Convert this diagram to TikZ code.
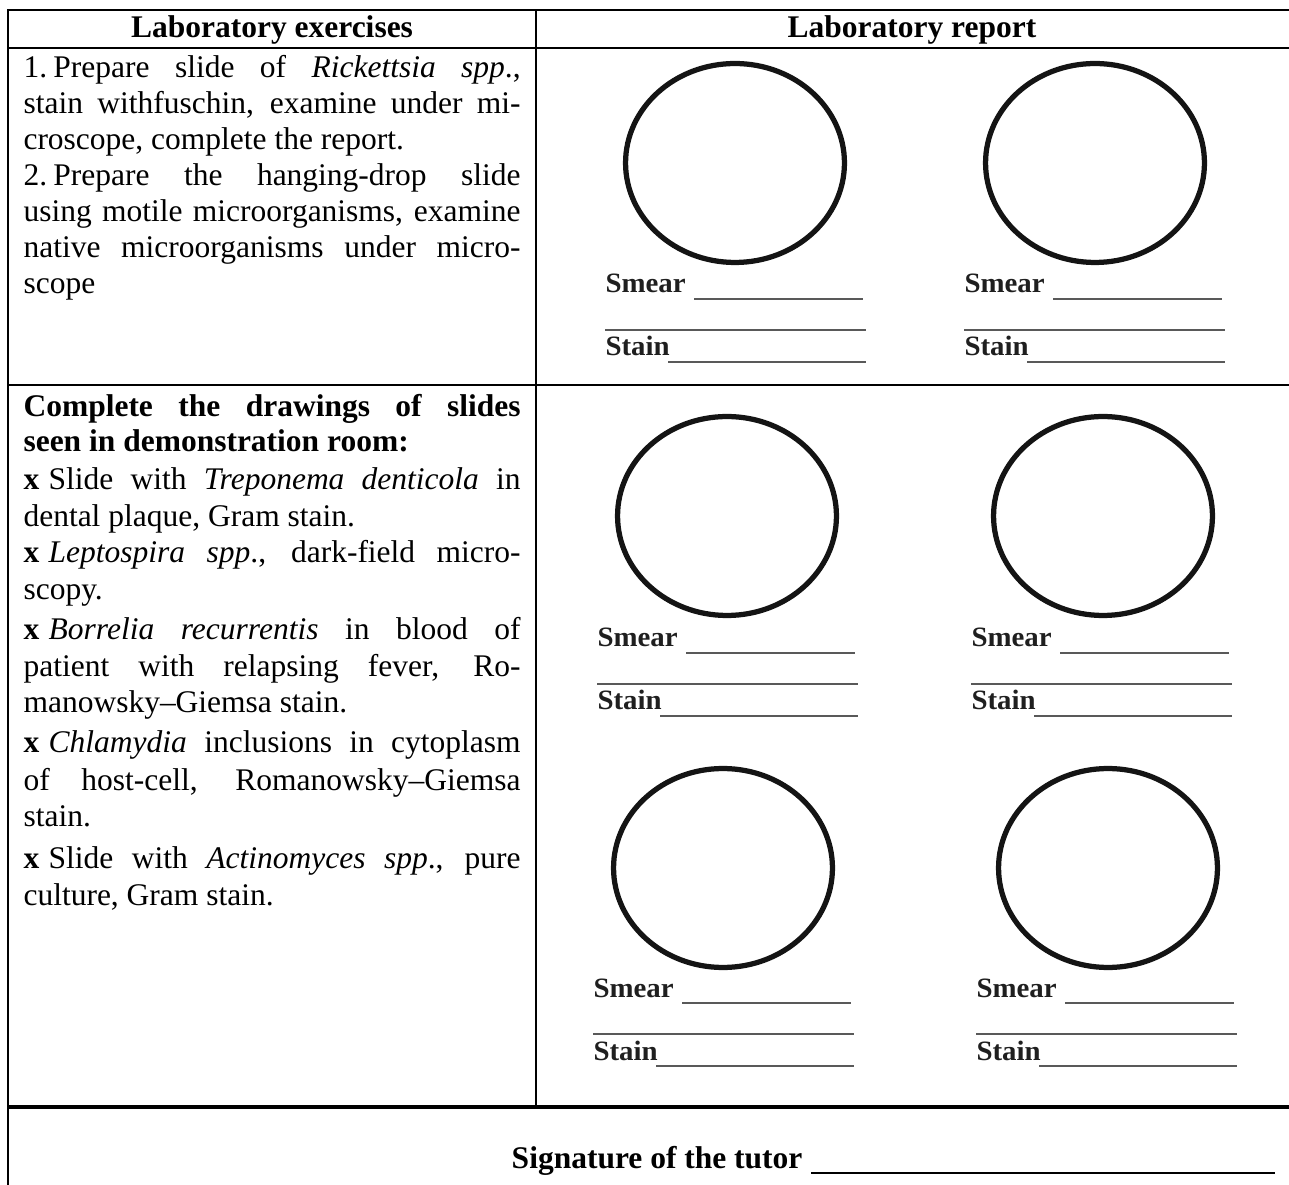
\documentclass[tikz,border=0pt]{standalone}
\usepackage{fontspec}
\setmainfont{Liberation Serif}
\usetikzlibrary{shapes.geometric}
\newcommand\jl[1]{\makebox[189.4pt][s]{#1}}
\newcommand\bx{\textbf{x}\hspace{0.3em}}
\newcommand\slideblock[5]{%
  \node[lens] (#1e) at (#2,#3) {};
  \begin{scope}[shift={(#4,#5)}]
    \node[lbl] (#1sm) at (0,0) {\scalebox{1}[0.97]{Smear}};
    \coordinate (#1a1) at (89,6);  \coordinate (#1a2) at (258,6);
    \coordinate (#1b1) at (0,37);  \coordinate (#1b2) at (261,37);
    \node[lbl] (#1st) at (0,63) {\scalebox{1}[0.97]{Stain}};
    \coordinate (#1c1) at (63,69); \coordinate (#1c2) at (261,69);
    \draw[blank] (#1a1) -- (#1a2);
    \draw[blank] (#1b1) -- (#1b2);
    \draw[blank] (#1c1) -- (#1c2);
  \end{scope}}
\begin{document}
\begin{tikzpicture}[x=0.381pt,y=-0.381pt,
  rule/.style={line width=1.1pt},
  lens/.style={draw=black!92, line width=2pt, ellipse, inner sep=0pt,
               minimum width=83.4pt, minimum height=75.8pt},
  blank/.style={line width=0.8pt, draw=black!65},
  body/.style={inner sep=0pt, anchor=base west, font=\fontsize{12}{13.8}\selectfont},
  head/.style={inner sep=0pt, anchor=base, font=\fontsize{12}{13.8}\selectfont\bfseries},
  lbl/.style={inner sep=0pt, anchor=base west, font=\fontsize{11}{12}\selectfont\bfseries, text=black!88}]
\useasboundingbox (0,0) rectangle (1289,1185);
% table rules
\draw[rule] (1289,10) -- (8,10) -- (8,1185);
\draw[rule] (8,48) -- (1289,48);
\draw[rule] (8,385) -- (1289,385);
\draw[line width=1.4pt] (8,1107) -- (1289,1107);
\draw[line width=0.9pt] (536,10) -- (536,1107);
% headers
\node[head] (h1) at (272,38) {Laboratory exercises};
\node[head] (h2) at (912,38) {Laboratory report};
% row 1 text
\node[body] (a1) at (23,78)    {\jl{1.\hspace{0.2em}Prepare slide of \textit{Rickettsia spp}.,}};
\node[body] (a2) at (23,113.9) {\jl{stain withfuschin, examine under mi-}};
\node[body] (a3) at (23,149.7) {croscope, complete the report.};
\node[body] (a4) at (23,185.6) {\jl{2.\hspace{0.2em}Prepare the hanging-drop slide}};
\node[body] (a5) at (23,221.4) {\jl{using motile microorganisms, examine}};
\node[body] (a6) at (23,257.3) {\jl{native microorganisms under micro-}};
\node[body] (a7) at (23,293.1) {scope};
% row 2 text
\node[body] (b1)  at (23,417) {\jl{\bfseries Complete the drawings of slides}};
\node[body] (b2)  at (23,452) {\textbf{seen in demonstration room:}};
\node[body] (b3)  at (23,490) {\jl{\bx Slide with \textit{Treponema denticola} in}};
\node[body] (b4)  at (23,527) {dental plaque, Gram stain.};
\node[body] (b5)  at (23,563) {\jl{\bx\textit{Leptospira spp}., dark-field micro-}};
\node[body] (b6)  at (23,600) {scopy.};
\node[body] (b7)  at (23,640) {\jl{\bx\textit{Borrelia recurrentis} in blood of}};
\node[body] (b8)  at (23,677) {\jl{patient with relapsing fever, Ro-}};
\node[body] (b9)  at (23,713) {manowsky–Giemsa stain.};
\node[body] (b10) at (23,753) {\jl{\bx\textit{Chlamydia} inclusions in cytoplasm}};
\node[body] (b11) at (23,790) {\jl{of host-cell, Romanowsky–Giemsa}};
\node[body] (b12) at (23,827) {stain.};
\node[body] (b13) at (23,868) {\jl{\bx Slide with \textit{Actinomyces spp}., pure}};
\node[body] (b14) at (23,905) {culture, Gram stain.};
% slide drawings
\slideblock{s1}{735}{163}{605}{293}
\slideblock{s2}{1095}{163}{964}{293}
\slideblock{s3}{727}{516}{597}{647}
\slideblock{s4}{1103}{516}{971}{647}
\slideblock{s5}{723}{868}{593}{997}
\slideblock{s6}{1108}{868}{976}{997}
% signature
\node[head, anchor=base east] (sig) at (803,1168) {Signature of the tutor};
\coordinate (sigA) at (811,1173);
\coordinate (sigB) at (1275,1173);
\draw[line width=0.8pt] (sigA) -- (sigB);
\end{tikzpicture}
\end{document}
